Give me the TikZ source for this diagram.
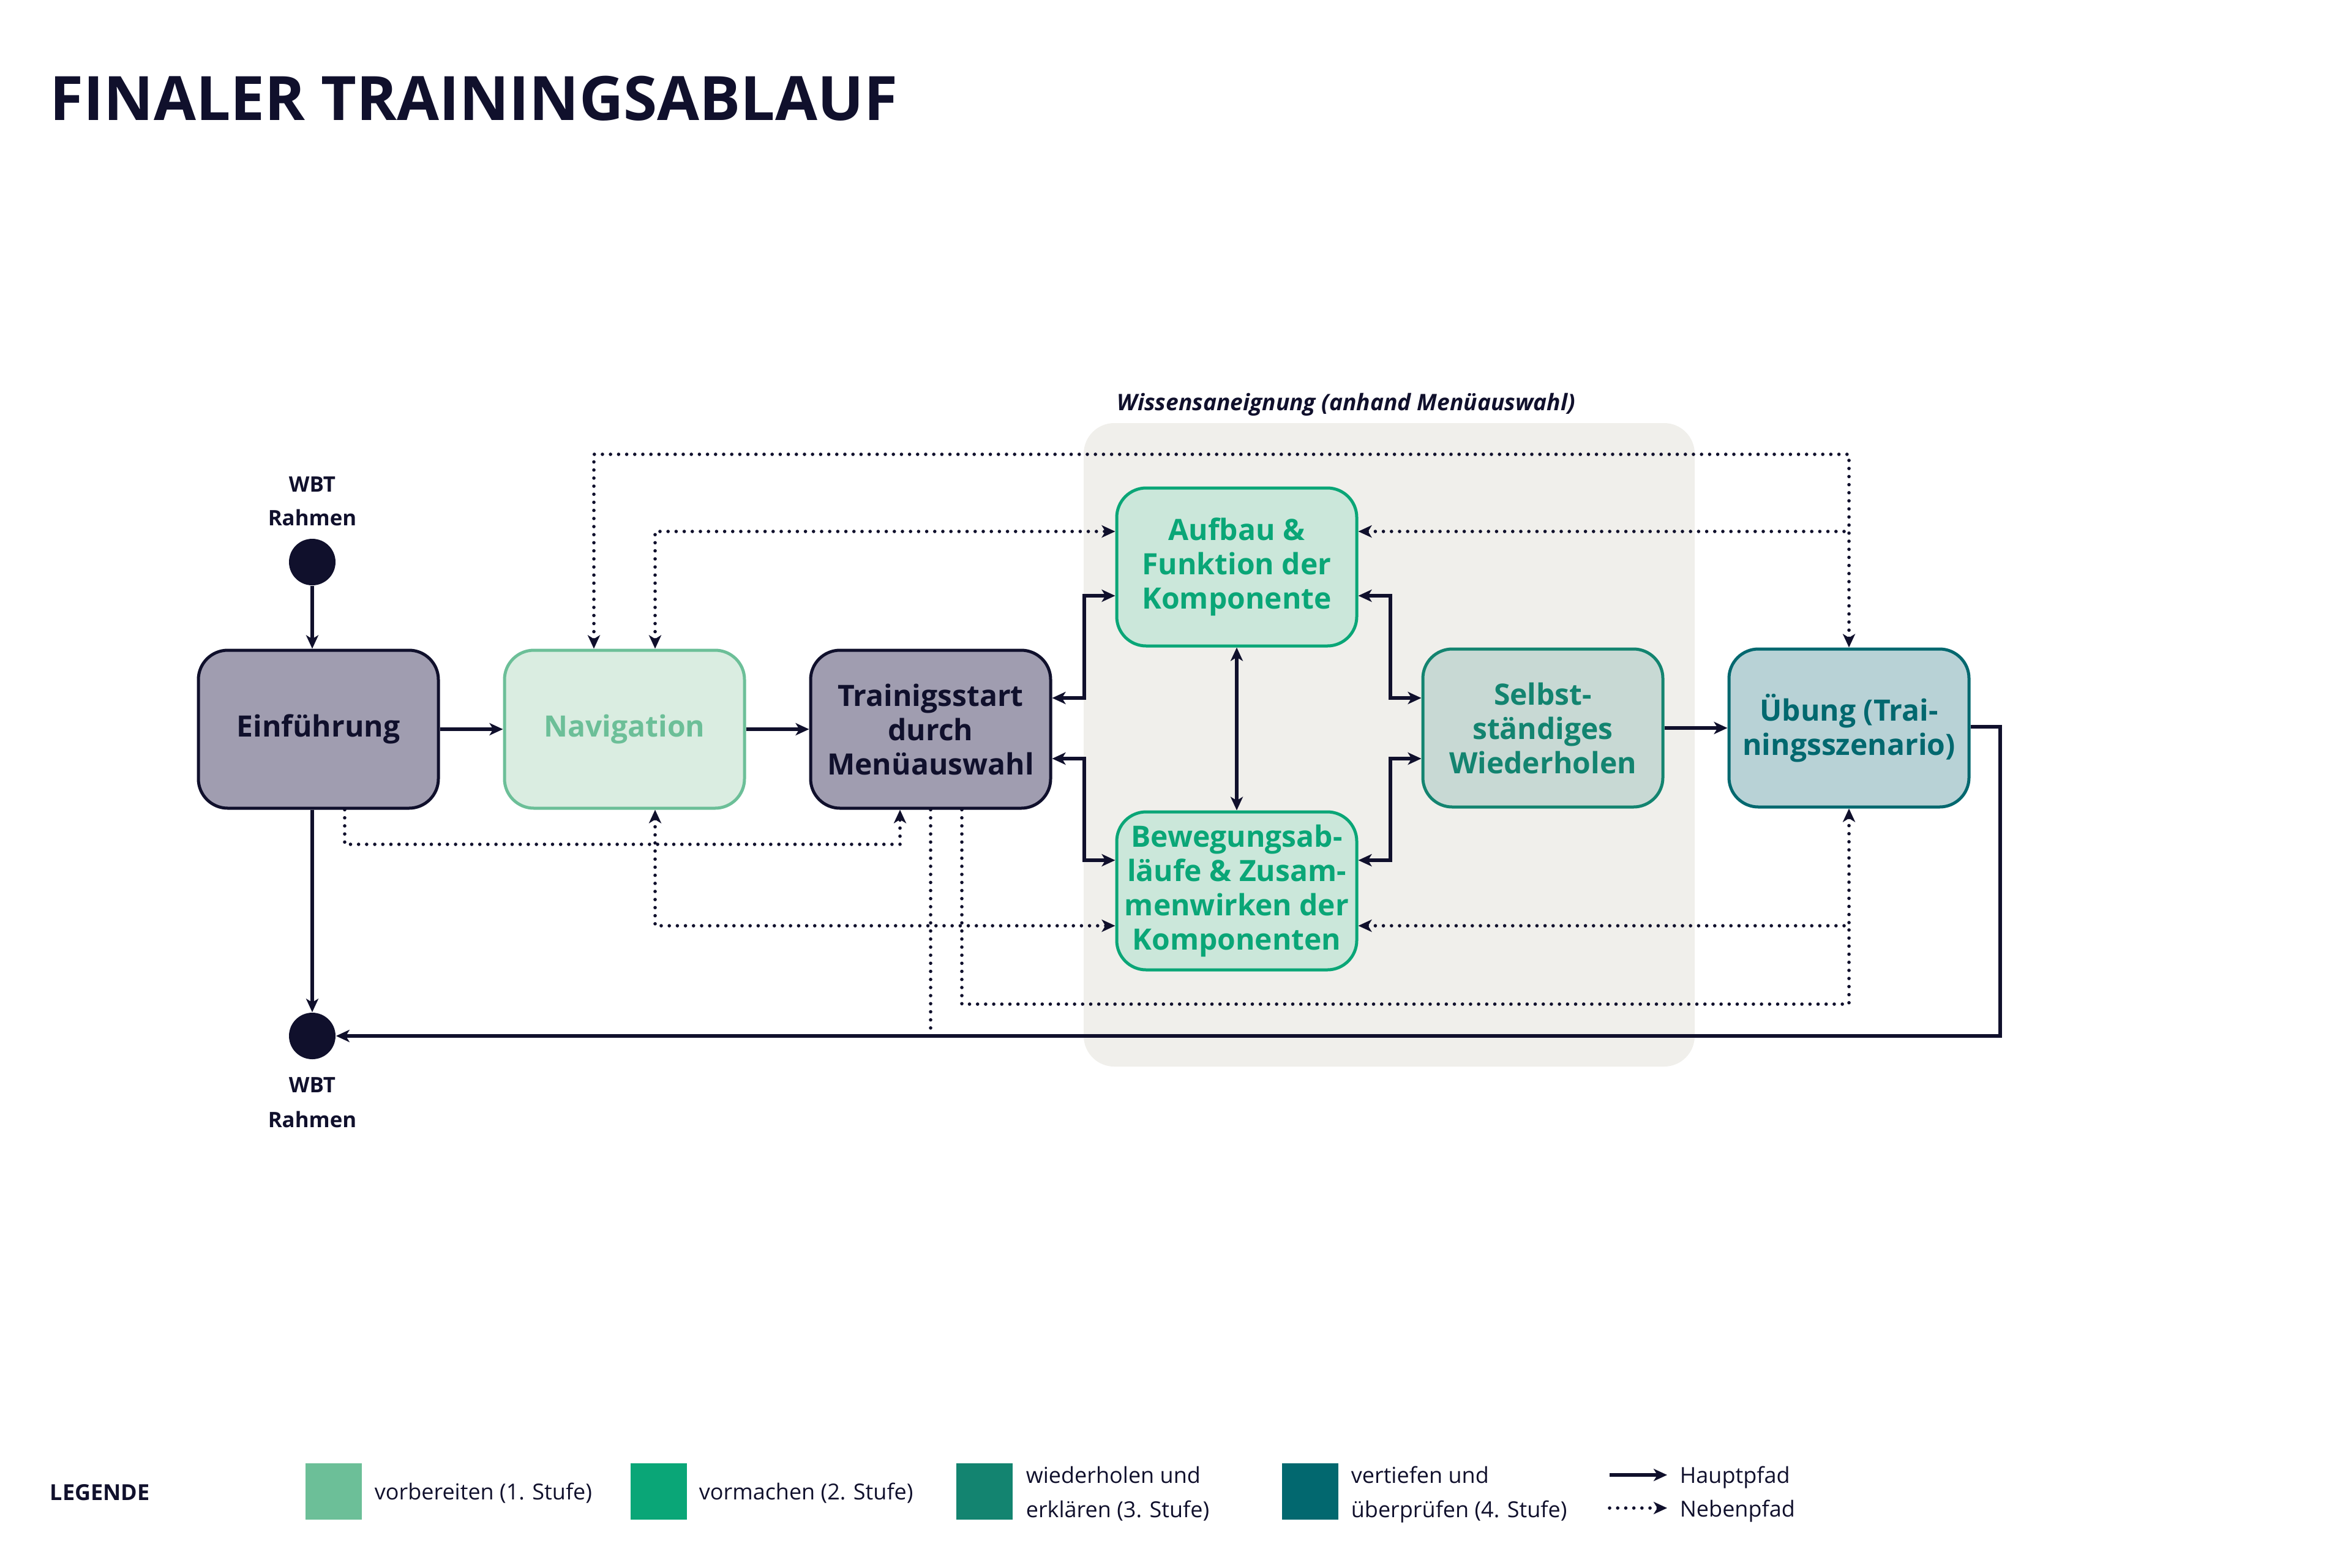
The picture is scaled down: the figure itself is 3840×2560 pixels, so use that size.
\documentclass[tikz,border=0pt]{standalone}
\usepackage{fontspec}
\setmainfont{Open Sans}
\newcommand\mysb{\bfseries}
\newcommand\mysbi{\bfseries\itshape}
\usetikzlibrary{arrows.meta,calc}
\definecolor{navy}{HTML}{10102C}
\definecolor{einfill}{HTML}{A09DB0}
\definecolor{navfill}{HTML}{DAEDE1}
\definecolor{navline}{HTML}{6CBF98}
\definecolor{auffill}{HTML}{CBE7DA}
\definecolor{aufline}{HTML}{0AA677}
\definecolor{selfill}{HTML}{C8D9D4}
\definecolor{selline}{HTML}{138470}
\definecolor{ubfill}{HTML}{B8D2D6}
\definecolor{ubline}{HTML}{02686F}
\definecolor{panel}{HTML}{F0EFEB}
\begin{document}
\begin{tikzpicture}[x=0.25pt,y=-0.25pt,
  >={Stealth[length=5.5pt,width=5pt,inset=1.5pt]},
  box/.style={rounded corners=12pt, line width=1.25pt, minimum width=98pt,
    minimum height=64.5pt, inner sep=0pt, align=center,
    font=\mysb\fontsize{12}{14}\selectfont},
  mainline/.style={draw=navy, line width=1.3pt},
  dotline/.style={draw=navy, line width=1.4pt, line cap=round, dash pattern=on 0pt off 3.3pt},
  lbl/.style={inner sep=0pt, text=navy, font=\mysb\fontsize{8.7}{11}\selectfont},
  legtxt/.style={inner sep=0pt, text=navy, anchor=base west, font=\fontsize{9}{11}\selectfont},
  swatch/.style={minimum size=23pt, inner sep=0pt},
  dotcirc/.style={circle, fill=navy, minimum size=19pt, inner sep=0pt}]
\useasboundingbox (0,0) rectangle (3840,2560);
% panel
\fill[panel, rounded corners=12.5pt] (1770,691) rectangle (2768,1742);
\node[inner sep=0pt, anchor=base west, text=navy, font=\mysbi\fontsize{9.3}{11}\selectfont] (wlabel) at (1824,670) {Wissensaneignung (anhand Menüauswahl)};
% title
\node[inner sep=0pt, anchor=base west, text=navy, font=\bfseries\fontsize{25}{30}\selectfont] (title) at (81,196) {FINALER TRAININGSABLAUF};
% nodes
\node[box, draw=navy, fill=einfill, text=navy] (ein) at (520,1191) {Einführung};
\node[box, draw=navline, fill=navfill, text=navline] (nav) at (1020,1191) {Navigation};
\node[box, draw=navy, fill=einfill, text=navy] (ts) at (1520,1191) {Trainigsstart\\durch\\Menüauswahl};
\node[box, draw=aufline, fill=auffill, text=aufline] (auf) at (2020,926) {Aufbau \&\\Funktion der\\Komponente};
\node[box, draw=aufline, fill=auffill, text=aufline] (bew) at (2020,1455) {Bewegungsab-\\läufe \& Zusam-\\menwirken der\\Komponenten};
\node[box, draw=selline, fill=selfill, text=selline] (sel) at (2520,1189) {Selbst-\\ständiges\\Wiederholen};
\node[box, draw=ubline, fill=ubfill, text=ubline] (ub) at (3020,1189) {Übung (Trai-\\ningsszenario)};
% start / end
\node[dotcirc] (s1) at (510,918) {};
\node[dotcirc] (e1) at (510,1692) {};
\node[lbl, anchor=base] (w1) at (510,803) {WBT};
\node[lbl, anchor=base] (r1) at (510,858) {Rahmen};
\node[lbl, anchor=base] (w2) at (510,1784) {WBT};
\node[lbl, anchor=base] (r2) at (510,1841) {Rahmen};
% helper coordinates
\coordinate (yTop) at (0,742);
\coordinate (yMid) at (0,868);
\coordinate (yE) at (0,1379);
\coordinate (yN) at (0,1512);
\coordinate (yT) at (0,1640);
\coordinate (yTe) at (0,1680);
\coordinate (yR) at (0,1692);
\coordinate (yA) at (0,1140);
\coordinate (yB) at (0,973);
\coordinate (yC) at (0,1239);
\coordinate (yD) at (0,1405);
\coordinate (yU) at (0,1187);
\coordinate (xN1) at (970,0);
\coordinate (xN2) at (1070,0);
\coordinate (xE) at (563,0);
\coordinate (xT1) at (1470,0);
\coordinate (xT2) at (1520,0);
\coordinate (xT3) at (1571,0);
\coordinate (xL) at (1771,0);
\coordinate (xR) at (2271,0);
\coordinate (xU) at (3020,0);
\coordinate (xO) at (3267,0);
% solid connectors
\draw[mainline,->] (s1) -- (ein.north -| s1);
\draw[mainline,->] (ein.east) -- (nav.west);
\draw[mainline,->] (nav.east) -- (ts.west);
\draw[mainline,<->] (ts.east |- yA) -| (yB -| xL) -- (auf.west |- yB);
\draw[mainline,<->] (ts.east |- yC) -| (yD -| xL) -- (bew.west |- yD);
\draw[mainline,<->] (auf.east |- yB) -| (yA -| xR) -- (sel.west |- yA);
\draw[mainline,<->] (bew.east |- yD) -| (yC -| xR) -- (sel.west |- yC);
\draw[mainline,<->] (auf.south) -- (bew.north);
\draw[mainline,->] (sel.east) -- (ub.west);
\draw[mainline,->] (ub.east |- yU) -| (yR -| xO) -- (e1);
\draw[mainline,->] (ein.south -| e1) -- (e1);
% dotted connectors
\draw[dotline,<->] (nav.north -| xN1) |- (yTop -| xU) -- (ub.north);
\draw[dotline,<->] (nav.north -| xN2) |- (auf.west |- yMid);
\draw[dotline,<-] (auf.east |- yMid) -- (yMid -| xU);
\draw[dotline,->] (ein.south -| xE) |- (yE -| xT1) -- (ts.south -| xT1);
\draw[dotline,<->] (nav.south -| xN2) |- (bew.west |- yN);
\draw[dotline,<->] (bew.east |- yN) -| (ub.south);
\draw[dotline] (ts.south -| xT2) -- (yTe -| xT2);
\draw[dotline] (ts.south -| xT3) |- (yT -| xU) -- (yN -| xU);
% legend
\node[inner sep=0pt, anchor=base west, text=navy, font=\bfseries\fontsize{9}{11}\selectfont] (leg) at (81,2450) {LEGENDE};
\node[swatch, fill=navline] (sw1) at (545,2436) {};
\node[legtxt] (lt1) at (611,2449) {vorbereiten (1. Stufe)};
\node[swatch, fill=aufline] (sw2) at (1076,2436) {};
\node[legtxt] (lt2) at (1141,2449) {vormachen (2. Stufe)};
\node[swatch, fill=selline] (sw3) at (1608,2436) {};
\node[legtxt] (lt3a) at (1675,2422) {wiederholen und};
\node[legtxt] (lt3b) at (1675,2478) {erklären (3. Stufe)};
\node[swatch, fill=ubline] (sw4) at (2140,2436) {};
\node[legtxt] (lt4a) at (2206,2422) {vertiefen und};
\node[legtxt] (lt4b) at (2206,2478) {überprüfen (4. Stufe)};
\coordinate (h1) at (2629,2409);
\coordinate (h2) at (2723,2409);
\coordinate (n1) at (2629,2463);
\coordinate (n2) at (2723,2463);
\draw[mainline,->] (h1) -- (h2);
\draw[dotline,->] (n1) -- (n2);
\node[legtxt] (lh) at (2743,2422) {Hauptpfad};
\node[legtxt] (ln) at (2743,2477) {Nebenpfad};
\end{tikzpicture}
\end{document}
